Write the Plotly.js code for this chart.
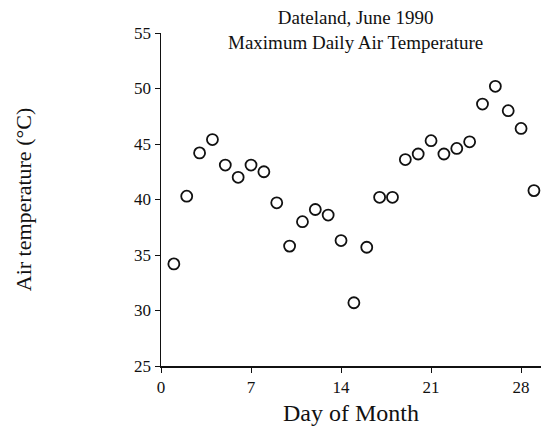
<!DOCTYPE html>
<html>
<head>
<meta charset="utf-8">
<script src="https://cdn.plot.ly/plotly-3.0.1.min.js"></script>
<style>html,body{margin:0;padding:0;background:#fff;}#chart{width:541px;height:430px;}</style>
</head>
<body>
<div id="chart"></div>
<script>
const days = [1,2,3,4,5,6,7,8,9,10,11,12,13,14,15,16,17,18,19,20,21,22,23,24,25,26,27,28,29];
const maxTemp = [34.2,40.3,44.2,45.4,43.1,42.0,43.1,42.5,39.7,35.8,38.0,39.1,38.6,36.3,30.7,35.7,40.2,40.2,43.6,44.1,45.3,44.1,44.6,45.2,48.6,50.2,48.0,46.4,40.8];
const xTicks = [0,7,14,21,28];
const yTicks = [25,30,35,40,45,50,55];
const chartTitle = 'Dateland, June 1990<br>Maximum Daily Air Temperature';

const trace = {
  x: days, y: maxTemp, type: 'scatter', mode: 'markers',
  marker: {symbol: 'circle-open', size: 11, color: '#111', line: {width: 1.8, color: '#111'}},
  hoverinfo: 'none'
};
const font = {family: '"Liberation Serif", "DejaVu Serif", serif', color: '#111'};
const layout = {
  width: 541, height: 430,
  margin: {l: 161, r: 0, t: 33, b: 64},
  paper_bgcolor: '#fff', plot_bgcolor: '#fff',
  showlegend: false,
  font: Object.assign({size: 17}, font),
  annotations: [{
    text: chartTitle, xref: 'paper', yref: 'paper', x: 0.513, y: 1.085,
    xanchor: 'center', yanchor: 'top', showarrow: false, align: 'center',
    font: Object.assign({size: 19}, font)
  }],
  xaxis: {
    range: [0, 29.55], tickvals: xTicks, ticktext: xTicks.map(String),
    showgrid: false, zeroline: false, showline: true, linecolor: '#111', linewidth: 1.5,
    ticks: 'outside', ticklen: 5, tickcolor: '#111', tickwidth: 1,
    tickfont: Object.assign({size: 17}, font),
    title: {text: 'Day of Month', font: Object.assign({size: 24}, font), standoff: 8}
  },
  yaxis: {
    range: [25, 55], tickvals: yTicks, ticktext: yTicks.map(String),
    showgrid: false, zeroline: false, showline: true, linecolor: '#111', linewidth: 1.5,
    ticks: 'outside', ticklen: 5, tickcolor: '#111', tickwidth: 1,
    tickfont: Object.assign({size: 17}, font),
    title: {text: 'Air temperature (°C)', font: Object.assign({size: 22}, font), standoff: 96}
  }
};
Plotly.newPlot('chart', [trace], layout, {staticPlot: true, displayModeBar: false});
</script>
</body>
</html>
